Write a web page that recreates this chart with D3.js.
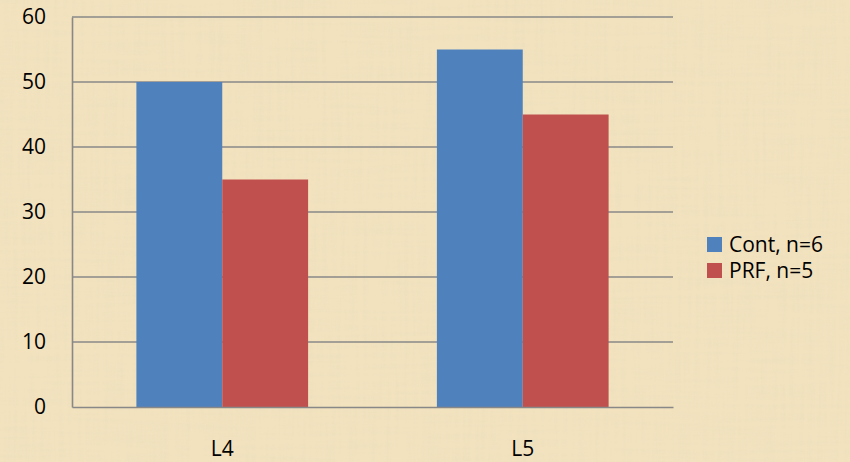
<!DOCTYPE html>
<html>
<head>
<meta charset="utf-8">
<script src="https://cdn.jsdelivr.net/npm/d3@7"></script>
<style>
  html, body { margin: 0; padding: 0; background: #f3e4c1; }
  svg { display: block; }
</style>
</head>
<body>
<svg id="chart" width="850" height="462"></svg>
<script>
// Chart data
const categories = ["L4", "L5"];
const seriesNames = ["Cont, n=6", "PRF, n=5"];
const contValues = [50, 55];
const prfValues = [35, 45];
const yTicks = [0, 10, 20, 30, 40, 50, 60];

const seriesColors = ["#4f81bd", "#c0504d"];
const fontFamily = "'Open Sans', 'Noto Sans', sans-serif";
const fontSize = 21;

const svg = d3.select("#chart");
const W = 850, H = 462;
const margin = { left: 72, right: 177, top: 17, bottom: 55 };
const plotW = W - margin.left - margin.right;
const plotH = H - margin.top - margin.bottom;

// Parchment background: flat tone plus a soft fibrous texture
const defs = svg.append("defs");
const f = defs.append("filter").attr("id", "paper")
  .attr("x", 0).attr("y", 0).attr("width", "100%").attr("height", "100%");
f.append("feTurbulence").attr("type", "fractalNoise")
  .attr("baseFrequency", "0.012 0.22").attr("numOctaves", 3).attr("seed", 4).attr("result", "h");
f.append("feTurbulence").attr("type", "fractalNoise")
  .attr("baseFrequency", "0.22 0.012").attr("numOctaves", 3).attr("seed", 9).attr("result", "v");
f.append("feComposite").attr("in", "h").attr("in2", "v")
  .attr("operator", "arithmetic").attr("k2", 0.5).attr("k3", 0.5).attr("result", "n");
f.append("feColorMatrix").attr("in", "n").attr("type", "matrix")
  .attr("values", "0 0 0 0 0.78  0 0 0 0 0.70  0 0 0 0 0.50  1.6 0 0 0 -0.72");

svg.append("rect").attr("width", W).attr("height", H).attr("fill", "#f2e2be");
svg.append("rect").attr("width", W).attr("height", H)
  .attr("filter", "url(#paper)").attr("opacity", 0.5);

const g = svg.append("g").attr("transform", `translate(${margin.left},${margin.top})`);

const y = d3.scaleLinear().domain([0, 60]).range([plotH, 0]);
const x0 = d3.scaleBand().domain(categories).range([0, plotW]).paddingInner(0).paddingOuter(0);
const groupInner = x0.bandwidth() * (2 / 3.5);
const x1 = d3.scaleBand().domain(seriesNames)
  .range([(x0.bandwidth() - groupInner) / 2, (x0.bandwidth() + groupInner) / 2]).padding(0);

// Horizontal grid lines
g.append("g").selectAll("line").data(yTicks.filter(d => d > 0)).join("line")
  .attr("x1", 0).attr("x2", plotW)
  .attr("y1", d => y(d)).attr("y2", d => y(d))
  .attr("stroke", "#888").attr("stroke-width", 1.6);

// Bars
const rows = categories.map((c, i) => ({ cat: c, vals: [contValues[i], prfValues[i]] }));
const groups = g.append("g").selectAll("g").data(rows).join("g")
  .attr("transform", d => `translate(${x0(d.cat)},0)`);
groups.selectAll("rect").data(d => d.vals.map((v, j) => ({ name: seriesNames[j], v, j }))).join("rect")
  .attr("x", d => x1(d.name)).attr("width", x1.bandwidth())
  .attr("y", d => y(d.v)).attr("height", d => y(0) - y(d.v))
  .attr("fill", d => seriesColors[d.j]);

// Axes
const yAxis = d3.axisLeft(y).tickValues(yTicks).tickSize(0).tickPadding(26);
const ya = g.append("g").call(yAxis);
ya.select(".domain").attr("stroke", "#888").attr("stroke-width", 1.6);
ya.selectAll("text").attr("font-family", fontFamily).attr("font-size", fontSize).attr("fill", "#000");

const xAxis = d3.axisBottom(x0).tickSize(0).tickPadding(34);
const xa = g.append("g").attr("transform", `translate(0,${plotH})`).call(xAxis);
xa.select(".domain").attr("stroke", "#888").attr("stroke-width", 1.6);
xa.selectAll("text").attr("font-family", fontFamily).attr("font-size", fontSize).attr("fill", "#000");

// Legend
const legend = svg.append("g").attr("transform", "translate(707,237)");
const items = legend.selectAll("g").data(seriesNames).join("g")
  .attr("transform", (d, i) => `translate(0,${i * 26})`);
items.append("rect").attr("width", 15).attr("height", 15).attr("fill", (d, i) => seriesColors[i]);
items.append("text").attr("x", 22).attr("y", 8).attr("dy", "0.35em")
  .attr("font-family", fontFamily).attr("font-size", fontSize).attr("fill", "#000")
  .text(d => d);
</script>
</body>
</html>
